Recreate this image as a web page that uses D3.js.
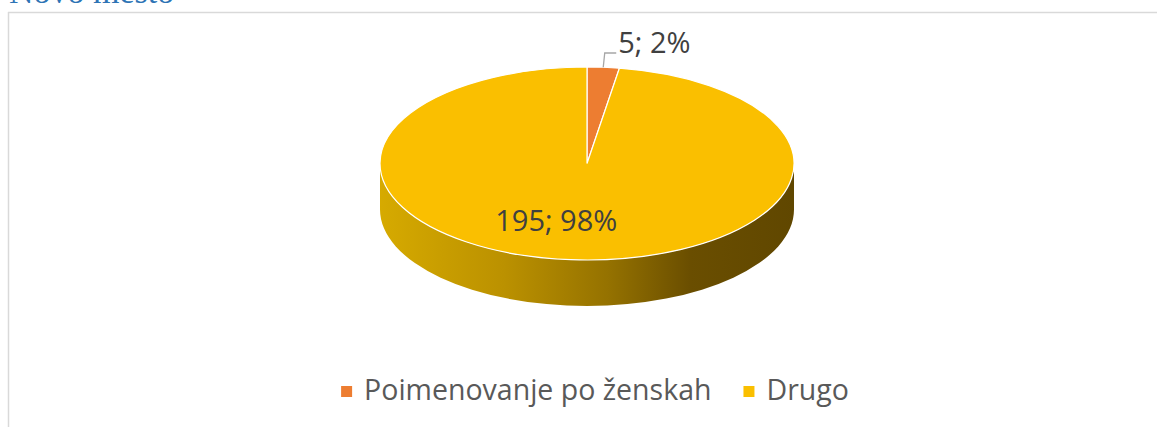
<!DOCTYPE html>
<html>
<head>
<meta charset="utf-8">
<script src="https://cdn.jsdelivr.net/npm/d3@7"></script>
<style>
  body { margin: 0; background: #fff; }
  svg { display: block; }
</style>
</head>
<body>
<div id="canvas"></div>
<script>
"use strict"

let svgWidth = 1157
let svgHeight = 427

/* data */
let categories = ["Poimenovanje po ženskah", "Drugo"]
let values = [5, 195]
let percentLabels = ["2%", "98%"]
let colors = ["#ED7D31", "#FABF00"]
let title = "Novo mesto"

/* pie geometry (ellipse of the 3D top face) */
let cx = 587
let cy = 163.5
let rx = 207
let ry = 96.5
let depth = 46

let svg = d3.select("#canvas")
    .append("svg")
    .attr("width", svgWidth)
    .attr("height", svgHeight)

/* title, cut off at the top like in the original */
svg.append("text")
   .attr("x", 9)
   .attr("y", 3)
   .attr("font-family", "Liberation Serif, serif")
   .attr("font-size", "34px")
   .attr("fill", "#2E74B5")
   .text(title)

/* chart area border (only top and left visible) */
svg.append("line")
   .attr("x1", 8).attr("x2", svgWidth)
   .attr("y1", 12.5).attr("y2", 12.5)
   .attr("stroke", "#d9d9d9").attr("stroke-width", 1.5)
svg.append("line")
   .attr("x1", 8.5).attr("x2", 8.5)
   .attr("y1", 12).attr("y2", svgHeight)
   .attr("stroke", "#d9d9d9").attr("stroke-width", 1.5)

/* side gradient */
let defs = svg.append("defs")
let grad = defs.append("linearGradient")
   .attr("id", "sideGrad")
   .attr("gradientUnits", "userSpaceOnUse")
   .attr("x1", cx - rx).attr("x2", cx + rx)
   .attr("y1", 0).attr("y2", 0)
let stops = [[0, "#d6aa00"], [0.3, "#bb9100"], [0.55, "#957200"], [0.75, "#6a4e00"], [1, "#604700"]]
stops.forEach(s => grad.append("stop").attr("offset", s[0]).attr("stop-color", s[1]))

let pie = d3.pie().sort(null).value(d => d)
let arcs = pie(values)

// angle measured clockwise from 12 o'clock
function px(a, f = 1) { return cx + rx * f * Math.sin(a) }
function py(a, f = 1) { return cy - ry * f * Math.cos(a) }

/* sides: only the front half (angles PI/2 .. 3PI/2) is visible */
arcs.forEach((d, i) => {
    let a0 = Math.max(d.startAngle, Math.PI / 2)
    let a1 = Math.min(d.endAngle, Math.PI * 3 / 2)
    if (a1 <= a0) return
    let large = (a1 - a0) > Math.PI ? 1 : 0
    let path = "M" + px(a0) + "," + py(a0) +
        " A" + rx + "," + ry + " 0 " + large + " 1 " + px(a1) + "," + py(a1) +
        " L" + px(a1) + "," + (py(a1) + depth) +
        " A" + rx + "," + ry + " 0 " + large + " 0 " + px(a0) + "," + (py(a0) + depth) + " Z"
    svg.append("path")
       .attr("d", path)
       .attr("fill", i === 1 ? "url(#sideGrad)" : d3.color(colors[i]).darker(1))
})

/* top faces */
let arc = d3.arc().innerRadius(0).outerRadius(rx)
svg.append("g")
   .attr("transform", "translate(" + cx + "," + cy + ") scale(1," + (ry / rx) + ")")
   .selectAll("path")
   .data(arcs)
   .join("path")
   .attr("d", arc)
   .attr("fill", (d, i) => colors[i])
   .attr("stroke", "#fff")
   .attr("stroke-width", 1.2)
   .attr("vector-effect", "non-scaling-stroke")

let labelFont = "Open Sans, Noto Sans, sans-serif"

/* label of the big slice, inside */
let big = arcs[1]
let bigMid = (big.startAngle + big.endAngle) / 2
svg.append("text")
   .attr("x", px(bigMid, 0.6) - 21)
   .attr("y", py(bigMid, 0.6) + 10)
   .attr("text-anchor", "middle")
   .attr("font-family", labelFont)
   .attr("font-size", "29px")
   .attr("fill", "#404040")
   .text(values[1] + "; " + percentLabels[1])

/* label of the small slice, outside with a leader line */
let small = arcs[0]
let smallMid = (small.startAngle + small.endAngle) / 2
let lx = px(smallMid), ly = py(smallMid)
svg.append("polyline")
   .attr("points", [[lx, ly], [lx + 1.5, 53], [lx + 13, 53]].map(p => p.join(",")).join(" "))
   .attr("fill", "none")
   .attr("stroke", "#a6a6a6")
   .attr("stroke-width", 1.3)
svg.append("text")
   .attr("x", lx + 15)
   .attr("y", 53)
   .attr("font-family", labelFont)
   .attr("font-size", "29px")
   .attr("fill", "#404040")
   .text(values[0] + "; " + percentLabels[0])

/* legend */
let legend = svg.append("g")
let lxPos = 0
let itemGap = 32
categories.forEach((c, i) => {
    let g = legend.append("g").attr("transform", "translate(" + lxPos + ",0)")
    g.append("rect")
     .attr("x", 0).attr("y", -14)
     .attr("width", 11).attr("height", 11)
     .attr("fill", colors[i])
    let t = g.append("text")
     .attr("x", 23).attr("y", 0)
     .attr("font-family", labelFont)
     .attr("font-size", "28.5px")
     .attr("fill", "#595959")
     .text(c)
    lxPos += 23 + t.node().getComputedTextLength() + itemGap
})
let legendWidth = lxPos - itemGap
legend.attr("transform", "translate(" + (595 - legendWidth / 2) + ",400)")
</script>
</body>
</html>
